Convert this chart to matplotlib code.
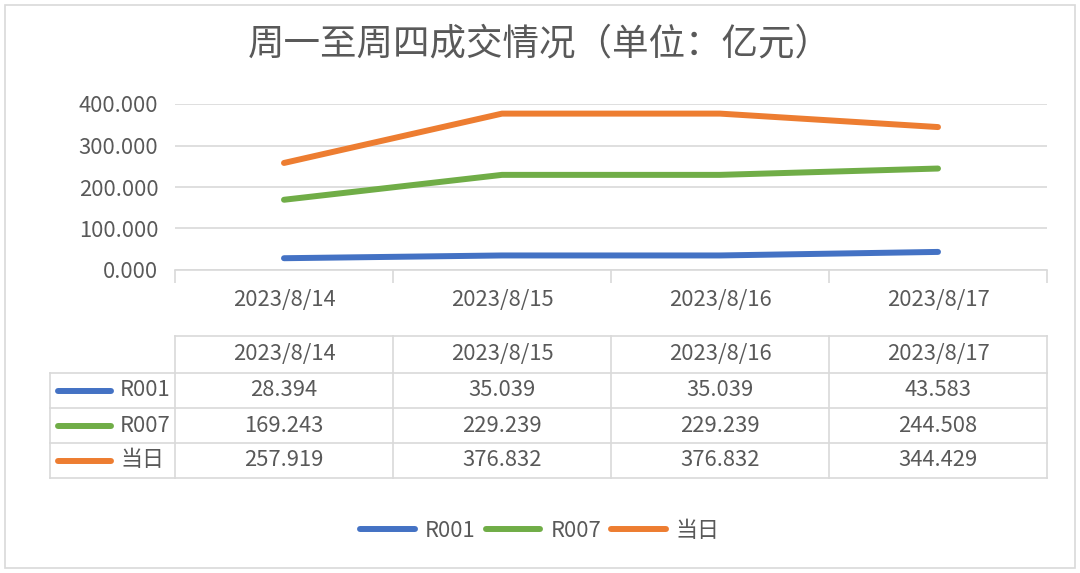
import matplotlib.pyplot as plt
from matplotlib.lines import Line2D
from matplotlib.patches import Rectangle

plt.rcParams['font.family'] = ['Noto Sans CJK SC', 'DejaVu Sans']

# data
dates = ['2023/8/14', '2023/8/15', '2023/8/16', '2023/8/17']
series_names = ['R001', 'R007', '当日']
r001 = [28.394, 35.039, 35.039, 43.583]
r007 = [169.243, 229.239, 229.239, 244.508]
today = [257.919, 376.832, 376.832, 344.429]
colors = ['#4472C4', '#70AD47', '#ED7D31']
title = '周一至周四成交情况（单位：亿元）'

W, H = 1080, 573
txt = '#595959'
grid = '#d9d9d9'
fs = 15.8

def fx(px):
    return px / W

def fy(py):
    return 1 - py / H

fig = plt.figure(figsize=(W / 100, H / 100), dpi=100)
fig.patches.append(Rectangle((fx(5), fy(568)), fx(1070), 563 / H, transform=fig.transFigure,
                             fill=False, edgecolor=grid, linewidth=1.2))

fig.text(0.5, fy(44), title, ha='center', va='center', fontsize=26.3, color=txt)

ax = fig.add_axes([fx(175), fy(270), fx(1047) - fx(175), fy(104) - fy(270)])
x = range(len(dates))
all_series = [r001, r007, today]
for vals, c, name in zip(all_series, colors, series_names):
    ax.plot(x, vals, color=c, linewidth=4.3, solid_capstyle='round', label=name)

ax.set_xlim(-0.5, 3.5)
ax.set_ylim(0, 400)
ax.set_yticks([0, 100, 200, 300, 400])
ax.set_yticklabels([f'{v:.3f}' for v in [0, 100, 200, 300, 400]])
ax.yaxis.grid(True, color=grid, linewidth=1.2)
ax.set_axisbelow(True)
for s in ['top', 'right', 'left']:
    ax.spines[s].set_visible(False)
ax.spines['bottom'].set_color(grid)
ax.spines['bottom'].set_linewidth(1.2)
ax.tick_params(axis='y', length=0, labelsize=fs, labelcolor=txt, pad=12)
ax.set_xticks([-0.5, 0.5, 1.5, 2.5, 3.5])
ax.set_xticklabels([])
ax.tick_params(axis='x', length=9, color=grid, width=1.2)
for i, d in enumerate(dates):
    ax.text(i, -0.18, d, transform=ax.get_xaxis_transform(), ha='center', va='center',
            fontsize=fs, color=txt)

# data table
col_edges = [175, 393, 611, 829, 1047]
row_edges = [336, 373, 408, 443, 478]
left = 50

def hline(y0, x0, x1):
    fig.add_artist(Line2D([fx(x0), fx(x1)], [fy(y0), fy(y0)], transform=fig.transFigure,
                          color=grid, linewidth=1.2))

def vline(xp, y0, y1):
    fig.add_artist(Line2D([fx(xp), fx(xp)], [fy(y0), fy(y1)], transform=fig.transFigure,
                          color=grid, linewidth=1.2))

hline(row_edges[0], col_edges[0], col_edges[-1])
for yp in row_edges[1:]:
    hline(yp, left, col_edges[-1])
for xp in col_edges:
    vline(xp, row_edges[0], row_edges[-1])
vline(left, row_edges[1], row_edges[-1])

for i, d in enumerate(dates):
    cx = (col_edges[i] + col_edges[i + 1]) / 2
    fig.text(fx(cx), fy((row_edges[0] + row_edges[1]) / 2), d, ha='center', va='center',
             fontsize=fs, color=txt)

for r, (vals, c, name) in enumerate(zip(all_series, colors, series_names)):
    cy = (row_edges[r + 1] + row_edges[r + 2]) / 2
    fig.add_artist(Line2D([fx(58), fx(111)], [fy(cy), fy(cy)], transform=fig.transFigure,
                          color=c, linewidth=4.3, solid_capstyle='round'))
    fig.text(fx(120), fy(cy), name, ha='left', va='center', fontsize=fs, color=txt)
    for i, v in enumerate(vals):
        cx = (col_edges[i] + col_edges[i + 1]) / 2
        fig.text(fx(cx), fy(cy), f'{v:.3f}', ha='center', va='center', fontsize=fs, color=txt)

fig.legend(loc='center', bbox_to_anchor=(0.5, fy(531)), ncol=3, frameon=False,
           fontsize=fs, labelcolor=txt, handlelength=2.5, columnspacing=0.45, handletextpad=0.45)

fig.savefig('out.png', dpi=100)
